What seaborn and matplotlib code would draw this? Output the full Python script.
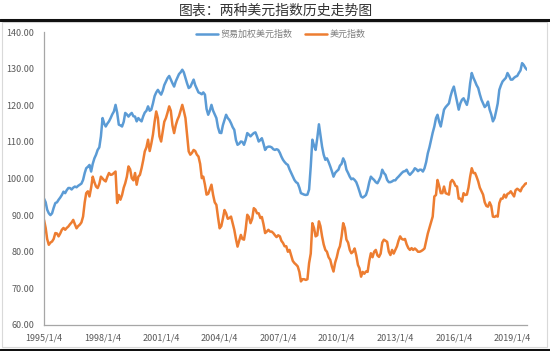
import numpy as np
import pandas as pd
import matplotlib
matplotlib.use("Agg")
import matplotlib.pyplot as plt
from matplotlib.lines import Line2D
from matplotlib.patches import Rectangle
import seaborn as sns

# ---------------- data (monthly readings, 1995-01 .. 2019-10) ----------------
series_names = ["贸易加权美元指数", "美元指数"]
trade_weighted = [
    94.5, 93.5, 91.5, 90.5, 90.0, 90.5, 92.0, 93.3, 93.5, 94.2, 94.8, 95.5,          # 1995
    96.4, 96.0, 96.8, 97.4, 97.4, 97.0, 97.5, 97.8, 97.6, 98.0, 98.3, 98.6,          # 1996
    99.6, 101.5, 102.8, 103.2, 103.7, 101.9, 104.0, 105.5, 106.5, 107.8, 108.5, 111.5,  # 1997
    116.5, 115.0, 114.2, 115.0, 115.6, 116.5, 117.5, 118.3, 120.1, 118.0, 114.7, 114.5,  # 1998
    114.2, 115.5, 117.9, 117.5, 116.9, 117.5, 117.9, 117.0, 116.9, 115.6, 116.5, 116.0,  # 1999
    115.6, 117.0, 118.0, 118.5, 119.7, 118.5, 118.8, 120.5, 122.5, 123.5, 124.2, 123.5,  # 2000
    122.9, 124.0, 125.5, 126.5, 127.4, 128.0, 127.0, 126.0, 125.1, 126.5, 127.5, 128.5,  # 2001
    129.0, 129.7, 129.0, 127.5, 126.0, 124.7, 125.0, 126.0, 127.0, 125.5, 124.5, 123.5,  # 2002
    123.3, 123.0, 123.5, 122.9, 119.0, 117.4, 118.5, 120.1, 118.5, 117.5, 116.5, 114.0,  # 2003
    112.5, 112.4, 114.5, 116.0, 117.4, 116.5, 116.0, 115.1, 114.0, 113.3, 110.5, 109.2,  # 2004
    109.5, 110.1, 110.0, 109.2, 110.5, 112.4, 112.0, 111.5, 112.0, 112.4, 112.6, 111.5,  # 2005
    110.1, 110.5, 111.0, 109.5, 107.8, 108.5, 108.7, 108.7, 108.5, 108.0, 107.8, 108.0,  # 2006
    107.8, 107.0, 106.0, 105.1, 104.5, 104.0, 103.7, 102.5, 101.5, 100.5, 99.6, 99.0,    # 2007
    98.7, 97.5, 96.0, 95.8, 95.6, 95.5, 95.6, 97.0, 103.3, 110.6, 109.0, 107.8,          # 2008
    111.0, 114.8, 112.0, 108.7, 106.5, 105.1, 105.5, 104.5, 103.3, 102.0, 100.5, 101.5,  # 2009
    102.0, 102.4, 103.5, 104.0, 105.5, 104.5, 102.4, 101.5, 100.5, 99.8, 100.0, 99.6,    # 2010
    99.0, 97.8, 96.5, 95.1, 94.8, 95.1, 95.5, 96.9, 99.0, 100.5, 100.0, 99.6,            # 2011
    99.0, 98.7, 99.5, 100.5, 102.4, 101.5, 101.0, 99.6, 99.0, 99.0, 99.2, 99.5,          # 2012
    99.5, 100.1, 100.5, 101.0, 101.5, 101.9, 102.0, 102.4, 101.5, 101.0, 101.5, 102.0,   # 2013
    102.8, 102.5, 102.0, 102.4, 102.4, 101.9, 102.8, 104.5, 106.9, 108.5, 110.6, 112.5,  # 2014
    114.2, 116.5, 117.4, 115.5, 114.2, 116.5, 118.8, 119.5, 120.0, 120.5, 122.5, 124.0,  # 2015
    125.1, 123.0, 121.0, 118.8, 120.5, 121.5, 121.9, 121.0, 120.1, 122.0, 126.0, 128.8,  # 2016
    127.5, 126.5, 125.5, 124.7, 123.0, 121.5, 120.5, 119.5, 120.0, 121.0, 118.8, 117.5,  # 2017
    115.6, 116.5, 118.3, 120.5, 124.2, 125.5, 126.5, 127.0, 127.5, 128.8, 128.0, 127.0,  # 2018
    127.0, 127.5, 127.8, 128.0, 128.8, 129.5, 131.5, 131.0, 130.2, 129.7,                # 2019
]
dollar_index = [
    88.7, 86.5, 83.5, 81.9, 82.5, 82.8, 83.5, 85.1, 85.0, 84.2, 85.0, 86.0,          # 1995
    86.5, 86.0, 86.5, 86.9, 87.5, 88.0, 88.7, 87.5, 86.4, 87.0, 87.4, 88.0,          # 1996
    89.6, 93.5, 96.0, 96.5, 95.1, 97.5, 100.5, 99.0, 97.8, 97.4, 98.5, 100.5,        # 1997
    100.0, 99.5, 99.2, 100.5, 101.5, 101.0, 101.1, 101.5, 101.9, 93.3, 95.5, 94.2,   # 1998
    95.5, 97.5, 98.7, 100.5, 103.3, 102.5, 100.1, 99.5, 101.5, 98.3, 100.5, 101.0,   # 1999
    102.8, 105.0, 107.4, 108.5, 110.6, 107.5, 109.5, 112.0, 115.5, 118.3, 116.5, 111.5,  # 2000
    110.1, 113.0, 115.5, 116.5, 118.0, 119.7, 118.5, 114.5, 112.4, 114.5, 116.0, 117.0,  # 2001
    118.5, 120.1, 118.5, 116.5, 112.0, 107.4, 106.5, 107.0, 107.8, 107.5, 106.5, 106.0,  # 2002
    104.0, 100.1, 100.5, 98.3, 95.6, 95.8, 97.0, 98.3, 95.5, 93.5, 92.8, 89.5,       # 2003
    86.4, 87.0, 89.0, 91.4, 90.5, 89.0, 89.2, 89.6, 87.8, 86.0, 83.5, 81.4,          # 2004
    83.0, 84.6, 83.5, 83.3, 86.0, 90.1, 89.5, 87.8, 89.0, 91.9, 91.5, 90.5,          # 2005
    90.5, 89.2, 89.5, 87.5, 85.1, 85.5, 86.0, 85.5, 85.5, 85.1, 84.5, 84.0,          # 2006
    84.5, 84.2, 83.0, 82.4, 81.5, 81.5, 80.0, 80.5, 79.0, 77.5, 76.9, 76.5,          # 2007
    76.0, 74.5, 71.9, 72.5, 72.5, 72.3, 72.5, 76.9, 79.5, 87.8, 86.5, 84.2,          # 2008
    84.5, 88.3, 87.0, 84.2, 82.0, 80.5, 80.0, 78.5, 77.8, 76.0, 74.6, 77.0,          # 2009
    78.5, 80.5, 81.5, 84.2, 87.8, 86.5, 83.3, 82.5, 80.5, 79.6, 80.0, 80.9,          # 2010
    79.0, 76.4, 75.5, 73.2, 74.5, 74.0, 74.6, 74.5, 77.5, 79.6, 78.5, 80.0,          # 2011
    80.5, 79.0, 78.6, 79.5, 82.5, 83.3, 83.0, 82.7, 80.0, 79.1, 80.5, 79.5,          # 2012
    80.5, 81.5, 83.0, 84.2, 83.5, 83.3, 83.5, 82.0, 81.0, 80.5, 81.0, 80.5,          # 2013
    80.9, 80.5, 80.0, 80.0, 80.2, 80.5, 80.9, 83.0, 85.0, 86.5, 88.0, 89.6,          # 2014
    95.1, 95.5, 99.6, 98.0, 96.0, 96.0, 97.8, 96.0, 95.8, 95.6, 99.0, 99.6,          # 2015
    99.0, 98.0, 97.8, 94.5, 94.5, 93.7, 96.0, 95.5, 95.6, 97.5, 100.5, 102.8,        # 2016
    101.5, 101.5, 100.5, 99.2, 97.5, 96.5, 95.6, 93.5, 92.5, 92.3, 93.5, 92.5,       # 2017
    89.6, 89.5, 89.8, 89.6, 93.3, 94.5, 94.5, 95.6, 94.8, 95.8, 96.0, 96.5,          # 2018
    95.8, 95.1, 96.8, 97.2, 96.9, 96.5, 97.5, 98.0, 98.6, 98.7,                      # 2019
]
x_tick_labels = ["1995/1/4", "1998/1/4", "2001/1/4", "2004/1/4", "2007/1/4",
                 "2010/1/4", "2013/1/4", "2016/1/4", "2019/1/4"]
y_ticks = [60, 70, 80, 90, 100, 110, 120, 130, 140]
title_text = "图表：两种美元指数历史走势图"

# ---------------- build table ----------------
n = len(trade_weighted)
dates = pd.date_range("1995-01-01", periods=n, freq="MS") + pd.Timedelta(days=3)
df = pd.concat([
    pd.DataFrame({"date": dates, "value": trade_weighted, "series": series_names[0]}),
    pd.DataFrame({"date": dates, "value": dollar_index, "series": series_names[1]}),
], ignore_index=True)

# ---------------- style ----------------
sns.set_theme(style="white")
plt.rcParams["font.family"] = ["Noto Sans CJK SC", "DejaVu Sans"]
plt.rcParams["axes.unicode_minus"] = False

blue = "#5B9BD5"
orange = "#ED7D31"
grey_text = "#595959"
legend_text = "#7F7F7F"
axis_col = "#A6A6A6"

fig = plt.figure(figsize=(5.5, 3.51), dpi=100)
fig.patch.set_facecolor("white")
W, H = 550, 351
ax = fig.add_axes([44 / W, 1 - 325 / H, (527 - 44) / W, (325 - 32) / H])

sns.lineplot(data=df, x="date", y="value", hue="series",
             palette=[blue, orange], hue_order=series_names,
             linewidth=1.8, ax=ax, legend=False)

ax.set_xlim(dates[0], dates[-1])
ax.set_ylim(60, 140)
ax.set_yticks(y_ticks)
ax.set_yticklabels([f"{v:.2f}" for v in y_ticks])
ax.set_xticks(pd.to_datetime(x_tick_labels, format="%Y/%m/%d"))
ax.set_xticklabels(x_tick_labels)
ax.set_xlabel("")
ax.set_ylabel("")

for s in ["top", "right"]:
    ax.spines[s].set_visible(False)
for s in ["left", "bottom"]:
    ax.spines[s].set_color(axis_col)
    ax.spines[s].set_linewidth(0.9)
ax.tick_params(axis="both", which="major", direction="out", length=3,
               width=0.9, color=axis_col, labelsize=6.5, labelcolor=grey_text)
ax.tick_params(axis="y", pad=4)
ax.tick_params(axis="x", pad=3)
ax.grid(False)

handles = [Line2D([0], [0], color=blue, lw=1.8),
           Line2D([0], [0], color=orange, lw=1.8)]
leg = ax.legend(handles, series_names, loc="upper center",
                bbox_to_anchor=(0.49, 1.035), ncol=2, frameon=False,
                fontsize=6.5, handlelength=2.4, handletextpad=0.3,
                columnspacing=1.4)
for t in leg.get_texts():
    t.set_color(legend_text)

# chart frame and banner
fig.add_artist(Rectangle((2 / W, 1 - 347 / H), 545 / W, (347 - 22) / H,
                         transform=fig.transFigure, fill=False,
                         edgecolor="#D9D9D9", linewidth=0.8))
fig.add_artist(Line2D([0, 1], [1 - 19.5 / H, 1 - 19.5 / H], transform=fig.transFigure,
                      color="#111111", linewidth=2.2))
fig.add_artist(Line2D([0, 1], [1 - 349.5 / H, 1 - 349.5 / H], transform=fig.transFigure,
                      color="#111111", linewidth=2.2))
fig.text(275.5 / W, 1 - 10.5 / H, title_text, ha="center", va="center",
         fontsize=10, color="#333333")

fig.savefig("out.png", dpi=100, facecolor="white")
